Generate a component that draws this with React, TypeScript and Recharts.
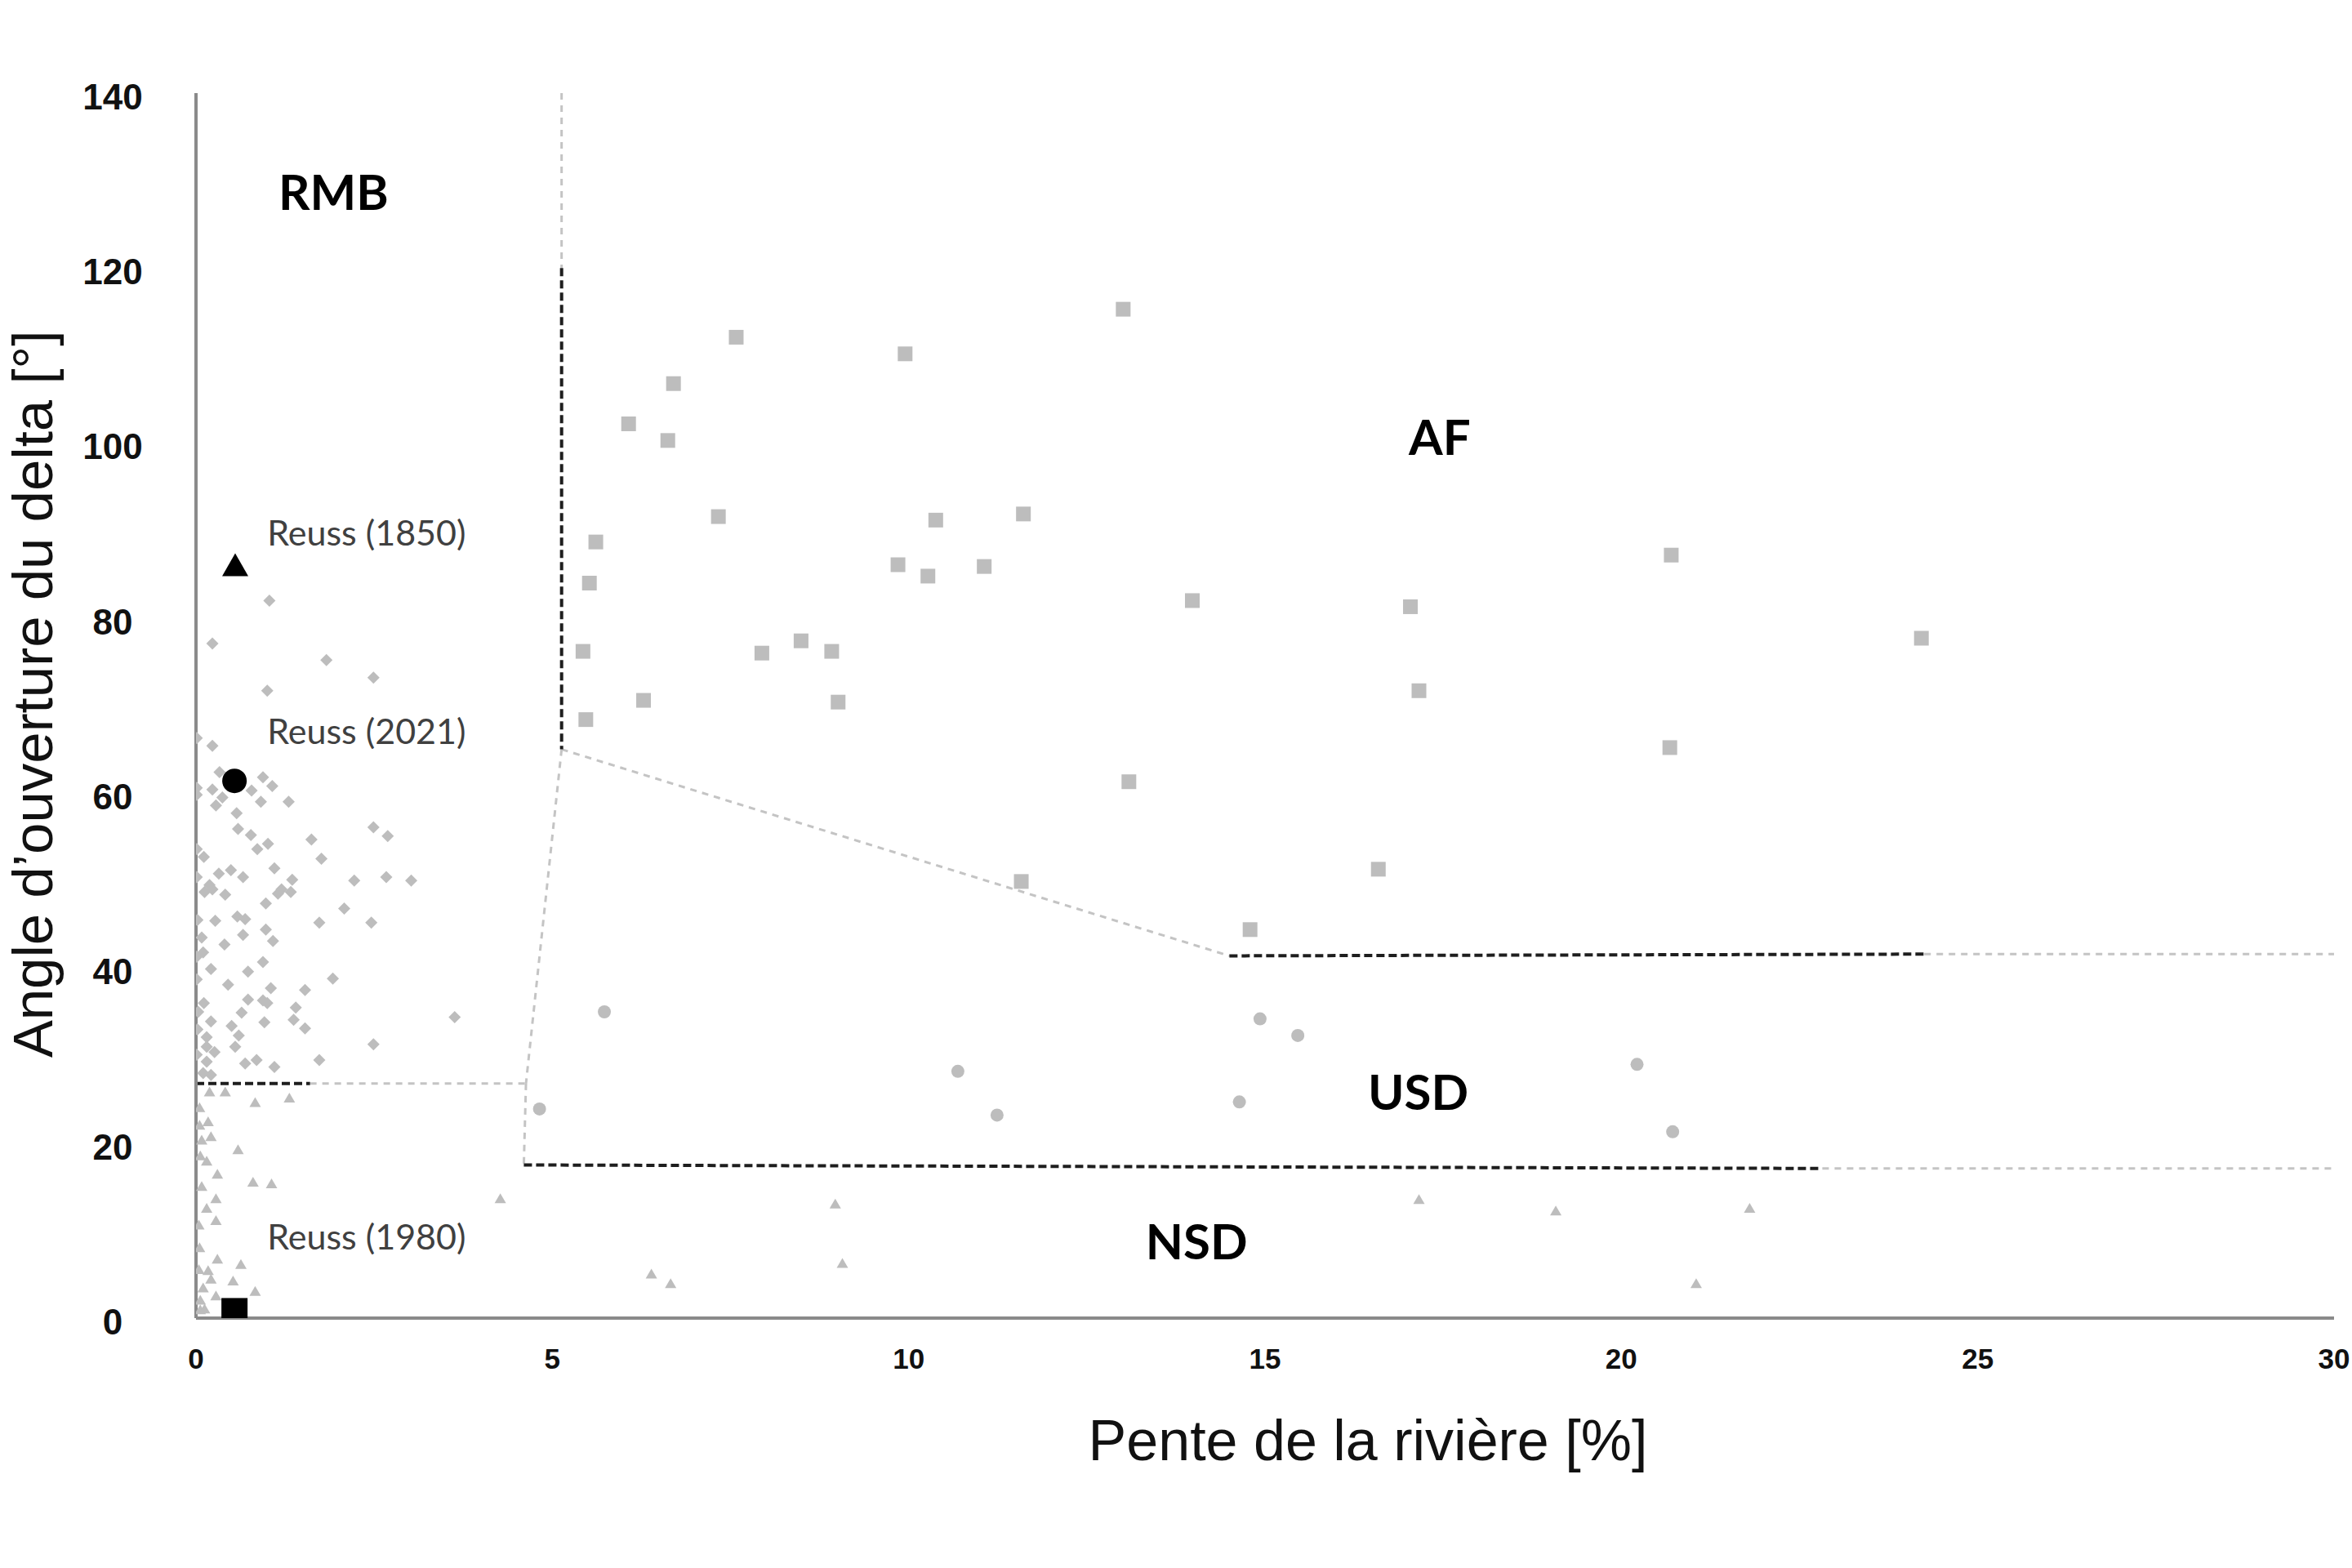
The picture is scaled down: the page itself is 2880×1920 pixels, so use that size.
import React from 'react';
import { ScatterChart, Scatter, XAxis, YAxis, ReferenceLine, ReferenceDot } from 'recharts';

const xTicks = [0, 5, 10, 15, 20, 25, 30];
const yTicks = [0, 20, 40, 60, 80, 100, 120, 140];

// RMB (diamonds)
const rmbPoints: [number, number][] = [
  [1.03, 82.0], [0.23, 77.1], [1.83, 75.2], [2.49, 73.2], [1.0, 71.7], [0.01, 66.3], [0.23, 65.4],
  [0.33, 62.4], [0.94, 61.8], [1.07, 60.8], [0.01, 60.6], [0.01, 59.8], [0.23, 60.4], [0.78, 60.3],
  [0.37, 59.5], [0.28, 58.6], [0.91, 59.0], [1.3, 59.0], [0.57, 57.7], [0.59, 55.9], [0.77, 55.2],
  [1.01, 54.2], [0.86, 53.6], [2.49, 56.1], [2.69, 55.1], [1.62, 54.7], [0.01, 53.6], [0.11, 52.7],
  [1.76, 52.5], [0.32, 50.8], [0.49, 51.2], [0.66, 50.4], [1.1, 51.4], [1.35, 50.1], [2.22, 50.0],
  [2.67, 50.4], [3.02, 50.0], [0.01, 50.4], [0.19, 49.5], [0.12, 48.7], [0.23, 49.0], [0.41, 48.4],
  [1.2, 49.0], [1.15, 48.5], [1.33, 48.7], [0.98, 47.4], [2.08, 46.8], [0.58, 45.9], [0.69, 45.6],
  [0.27, 45.4], [1.73, 45.2], [2.46, 45.2], [0.98, 44.4], [0.66, 43.8], [1.08, 43.1], [0.4, 42.7],
  [0.08, 43.5], [0.1, 41.8], [0.01, 41.3], [0.94, 40.7], [0.21, 39.9], [0.73, 39.6], [1.92, 38.8],
  [0.01, 38.7], [0.45, 38.1], [1.05, 37.7], [1.53, 37.5], [0.73, 36.4], [0.94, 36.3], [1.0, 36.0],
  [1.4, 35.5], [0.11, 36.0], [0.64, 34.9], [0.21, 33.9], [0.96, 33.8], [1.37, 34.1], [1.53, 33.1],
  [0.5, 33.4], [3.63, 34.4], [0.6, 32.3], [0.15, 32.1], [0.55, 31.0], [2.49, 31.3], [0.26, 30.4],
  [0.15, 31.0], [0.01, 30.1], [0.15, 29.3], [0.69, 29.1], [0.85, 29.5], [1.1, 28.7], [1.73, 29.5],
  [0.1, 28.0], [0.21, 27.8], [0.02, 45.5], [0.03, 35.0], [0.02, 33.0],
];

// AF (squares)
const afPoints: [number, number][] = [
  [13.01, 115.3], [7.58, 112.1], [9.95, 110.2], [6.7, 106.8], [6.07, 102.2], [6.62, 100.3],
  [7.33, 91.6], [5.61, 88.7], [10.38, 91.2], [11.61, 91.9], [5.52, 84.0], [9.85, 86.1],
  [10.27, 84.8], [11.06, 85.9], [13.98, 82.0], [17.04, 81.3], [5.43, 76.2], [7.94, 76.0],
  [8.49, 77.4], [8.92, 76.2], [6.28, 70.6], [9.01, 70.4], [5.47, 68.4], [17.16, 71.7],
  [13.09, 61.3], [16.59, 51.3], [11.58, 49.9], [20.7, 87.2], [24.21, 77.7], [20.68, 65.2],
  [14.79, 44.4],
];

// USD (circles)
const usdPoints: [number, number][] = [
  [5.73, 35.0], [4.82, 23.9], [14.93, 34.2], [15.46, 32.3], [10.69, 28.2], [20.22, 29.0],
  [11.24, 23.2], [14.64, 24.7], [20.72, 21.3],
];

// NSD (triangles)
const nsdPoints: [number, number][] = [
  [0.19, 25.8], [0.41, 25.8], [0.83, 24.6], [1.31, 25.1], [0.17, 22.4], [0.21, 20.7], [0.05, 22.0],
  [0.08, 20.3], [0.59, 19.2], [0.15, 17.9], [0.3, 16.4], [0.8, 15.5], [1.06, 15.3], [0.28, 13.6],
  [0.15, 12.5], [0.28, 11.1], [0.04, 10.6], [4.27, 13.6], [0.3, 6.7], [0.63, 6.1], [0.17, 5.4],
  [0.52, 4.2], [0.21, 4.4], [0.83, 3.0], [0.28, 2.5], [0.1, 3.4], [0.06, 0.9], [6.39, 5.0],
  [6.66, 3.9], [8.97, 13.0], [17.16, 13.5], [19.08, 12.2], [9.07, 6.2], [21.05, 3.9], [21.8, 12.5],
  [0.05, 24.0], [0.06, 18.5], [0.08, 15.0], [0.05, 8.0], [0.04, 5.5], [0.06, 2.0], [0.12, 1.0],
];

// Reuss points
const reuss1850: [number, number][] = [[0.55, 86.0]];
const reuss2021: [number, number][] = [[0.54, 61.4]];
const reuss1980: [number, number][] = [[0.54, 0.8]];

// Boundary segments (data coordinates)
const darkSegments: [number, number, number, number][] = [
  [5.13, 120, 5.13, 65],
  [14.5, 41.4, 24.25, 41.6],
  [0, 26.8, 1.6, 26.8],
  [4.6, 17.5, 22.82, 17.1],
];
const lightSegments: [number, number, number, number][] = [
  [5.13, 140, 5.13, 120],
  [5.13, 65, 14.5, 41.4],
  [24.25, 41.6, 30, 41.6],
  [5.13, 65, 4.63, 26.8],
  [4.63, 26.8, 4.6, 17.5],
  [1.6, 26.8, 4.63, 26.8],
  [22.82, 17.1, 30, 17.1],
];

// Text annotations [label, x, y(baseline)]
const regionLabels: [string, number, number][] = [
  ['RMB', 1.93, 126.7],
  ['AF', 17.45, 98.65],
  ['USD', 17.15, 23.8],
  ['NSD', 14.04, 6.72],
];
const reussLabels: [string, number, number][] = [
  ['Reuss (1850)', 1.0, 88.3],
  ['Reuss (2021)', 1.0, 65.6],
  ['Reuss (1980)', 1.0, 7.84],
];

const GRAY = '#bdbdbd';
const ARIAL = '"Liberation Sans", Arial, sans-serif';
const LATO = 'Lato, "Open Sans", sans-serif';

const toObj = (arr: [number, number][]) => arr.map(([x, y]) => ({ x, y }));

const Diamond = (p: any) => {
  const { cx, cy } = p;
  const r = 7.5;
  return <polygon points={`${cx},${cy - r} ${cx + r},${cy} ${cx},${cy + r} ${cx - r},${cy}`} fill={GRAY} />;
};
const Square = (p: any) => <rect x={p.cx - 9} y={p.cy - 9} width={18} height={18} fill={GRAY} />;
const Circ = (p: any) => <circle cx={p.cx} cy={p.cy} r={8} fill={GRAY} />;
const Tri = (p: any) => {
  const { cx, cy } = p;
  return <polygon points={`${cx},${cy - 7} ${cx + 7},${cy + 5} ${cx - 7},${cy + 5}`} fill={GRAY} />;
};
const BigTri = (p: any) => {
  const { cx, cy } = p;
  return <polygon points={`${cx},${cy - 15} ${cx + 16},${cy + 13} ${cx - 16},${cy + 13}`} fill="#000" />;
};
const BigCirc = (p: any) => <circle cx={p.cx} cy={p.cy} r={15} fill="#000" />;
const BigSquare = (p: any) => <rect x={p.cx - 16} y={p.cy - 16} width={32} height={32} fill="#000" />;

const YTick = (p: any) => (
  <text x={p.x - 102} y={p.y + 4} dy="0.36em" textAnchor="middle" fontFamily={ARIAL} fontWeight="bold" fontSize={44} fill="#111">
    {p.payload.value}
  </text>
);
const XTick = (p: any) => (
  <text x={p.x} y={p.y + 49} dy="0.36em" textAnchor="middle" fontFamily={ARIAL} fontWeight="bold" fontSize={35} fill="#111">
    {p.payload.value}
  </text>
);

const YTitle = (p: any) => {
  const vb = p.viewBox;
  const x = vb.x + 64;
  const y = vb.y + vb.height / 2 - 14;
  return (
    <text x={x} y={y} transform={`rotate(-90, ${x}, ${y})`} textAnchor="middle" fontFamily={ARIAL} fontSize={69} fill="#111">
      Angle d’ouverture du delta [°]
    </text>
  );
};
const XTitle = (p: any) => {
  const vb = p.viewBox;
  return (
    <text x={vb.x + vb.width / 2 + 126} y={vb.y + 174} textAnchor="middle" fontFamily={ARIAL} fontSize={70} fill="#111">
      Pente de la rivière [%]
    </text>
  );
};

const makeLabel = (text: string, anchor: string, size: number, weight: string, color: string) => (p: any) => {
  const vb = p.viewBox;
  const cx = vb.x + vb.width / 2;
  const cy = vb.y + vb.height / 2;
  return (
    <text x={cx} y={cy} textAnchor={anchor} fontFamily={LATO} fontSize={size} fontWeight={weight} fill={color}>
      {text}
    </text>
  );
};

export default function App() {
  return (
    <div style={{ position: 'absolute', left: 0, top: 0, width: 2880, height: 1920, background: '#fff' }}>
      <ScatterChart width={2880} height={1920} margin={{ top: 114, right: 22, left: 0, bottom: 0 }}>
        <XAxis
          type="number"
          dataKey="x"
          domain={[0, 30]}
          ticks={xTicks}
          tickLine={false}
          tickSize={0}
          tickMargin={0}
          height={306}
          axisLine={{ stroke: '#8a8a8a', strokeWidth: 4 }}
          tick={<XTick />}
          label={<XTitle />}
          allowDataOverflow
        />
        <YAxis
          type="number"
          dataKey="y"
          domain={[0, 140]}
          ticks={yTicks}
          tickLine={false}
          tickSize={0}
          tickMargin={0}
          width={240}
          axisLine={{ stroke: '#8a8a8a', strokeWidth: 4 }}
          tick={<YTick />}
          label={<YTitle />}
          allowDataOverflow
        />
        {lightSegments.map(([x1, y1, x2, y2], i) => (
          <ReferenceLine
            key={'l' + i}
            segment={[{ x: x1, y: y1 }, { x: x2, y: y2 }]}
            stroke="#c4c4c4"
            strokeWidth={3}
            strokeDasharray="8 7"
            ifOverflow="visible"
          />
        ))}
        {darkSegments.map(([x1, y1, x2, y2], i) => (
          <ReferenceLine
            key={'d' + i}
            segment={[{ x: x1, y: y1 }, { x: x2, y: y2 }]}
            stroke="#1e1e1e"
            strokeWidth={4}
            strokeDasharray="10 5"
            ifOverflow="visible"
          />
        ))}
        <Scatter name="RMB" data={toObj(rmbPoints)} shape={<Diamond />} isAnimationActive={false} />
        <Scatter name="AF" data={toObj(afPoints)} shape={<Square />} isAnimationActive={false} />
        <Scatter name="USD" data={toObj(usdPoints)} shape={<Circ />} isAnimationActive={false} />
        <Scatter name="NSD" data={toObj(nsdPoints)} shape={<Tri />} isAnimationActive={false} />
        <Scatter name="Reuss (1850)" data={toObj(reuss1850)} shape={<BigTri />} isAnimationActive={false} />
        <Scatter name="Reuss (2021)" data={toObj(reuss2021)} shape={<BigCirc />} isAnimationActive={false} />
        <Scatter name="Reuss (1980)" data={toObj(reuss1980)} shape={<BigSquare />} isAnimationActive={false} />
        {regionLabels.map(([t, x, y]) => (
          <ReferenceDot key={t} x={x} y={y} r={0} fill="none" stroke="none" ifOverflow="visible"
            label={makeLabel(t, 'middle', 60, 'bold', '#000')} />
        ))}
        {reussLabels.map(([t, x, y]) => (
          <ReferenceDot key={t} x={x} y={y} r={0} fill="none" stroke="none" ifOverflow="visible"
            label={makeLabel(t, 'start', 43, 'normal', '#404040')} />
        ))}
      </ScatterChart>
    </div>
  );
}
